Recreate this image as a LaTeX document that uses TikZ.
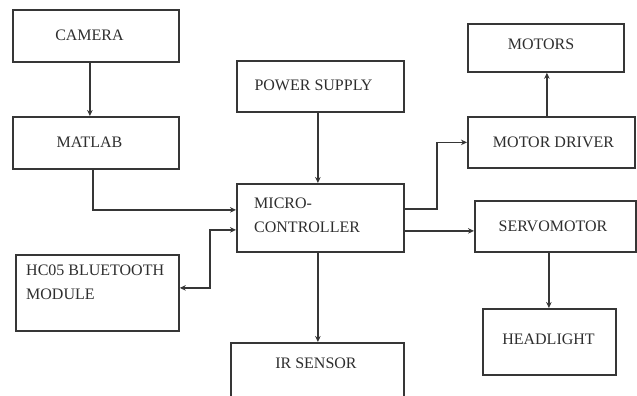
\documentclass[tikz,border=0pt]{standalone}
\usepackage{fontspec}
\setmainfont{Liberation Serif}
\usetikzlibrary{arrows.meta}
\definecolor{ink}{HTML}{363636}
\definecolor{txt}{HTML}{2E2E2E}
\tikzset{
  box/.style={draw=ink, line width=1.8pt, inner sep=0pt, anchor=north west, fill=white},
  lbl/.style={text=txt, font=\fontsize{16}{24}\selectfont, inner sep=0pt},
  arr/.style={draw=ink, line width=1.4pt, -{Stealth[length=6pt,width=5.5pt]}},
  dblarr/.style={draw=ink, line width=1.4pt, {Stealth[length=6pt,width=5.5pt]}-{Stealth[length=6pt,width=5.5pt]}}
}
\begin{document}
\begin{tikzpicture}[x=1pt,y=-1pt]
\useasboundingbox (0,0) rectangle (637,396);
\clip (0,0) rectangle (637,396);
\fill[white] (0,0) rectangle (637,396);
% boxes
\node[box, minimum width=166pt, minimum height=52pt] (camera) at (12,9) {};
\node[lbl] (cameratext) at (89.5,35) {CAMERA};
\node[box, minimum width=166pt, minimum height=52pt] (matlab) at (12,116) {};
\node[lbl] (matlabtext) at (89.5,142) {MATLAB};
\node[box, minimum width=167pt, minimum height=51pt] (power) at (236,60) {};
\node[lbl] (powertext) at (313.5,85.5) {POWER SUPPLY};
\node[box, minimum width=167pt, minimum height=68pt] (mc) at (236,183) {};
\node[lbl, anchor=west, align=left] (mctext) at (254,215) {MICRO-\\CONTROLLER};
\node[box, minimum width=163pt, minimum height=76pt] (hc05) at (15,254) {};
\node[lbl, anchor=west, align=left] (hc05text) at (26,282) {HC05 BLUETOOTH\\MODULE};
\node[box, minimum width=173pt, minimum height=80pt] (ir) at (230,342) {};
\node[lbl] (irtext) at (316,363) {IR SENSOR};
\node[box, minimum width=156pt, minimum height=48pt] (motors) at (467,23) {};
\node[lbl] (motorstext) at (541,44) {MOTORS};
\node[box, minimum width=167pt, minimum height=51pt] (md) at (467,116) {};
\node[lbl] (mdtext) at (553.5,142) {MOTOR DRIVER};
\node[box, minimum width=161pt, minimum height=51pt] (servo) at (474,200) {};
\node[lbl] (servotext) at (553,226) {SERVOMOTOR};
\node[box, minimum width=133pt, minimum height=66pt] (head) at (482,308) {};
\node[lbl] (headtext) at (548.5,339) {HEADLIGHT};
% connectors
\draw[arr] ([xshift=-6pt]camera.south) -- ([xshift=-6pt]matlab.north);
\draw[arr] ([xshift=-3pt]matlab.south) |- ([yshift=8pt]mc.west);
\draw[arr] ([xshift=-2.5pt]power.south) -- ([xshift=-2.5pt]mc.north);
\draw[arr] ([xshift=-2.5pt]mc.south) -- ([xshift=0.5pt]ir.north);
\draw[dblarr] ([yshift=5pt]hc05.east) -- ++(30,0) |- ([yshift=-12pt]mc.west);
\draw[arr] ([yshift=9pt]mc.east) -- ++(32,0) |- (md.west);
\coordinate (mcs) at ([yshift=-13pt]mc.east);
\draw[arr] (mcs) -- (mcs -| servo.west);
\coordinate (mdn) at ([xshift=-4.5pt]md.north);
\draw[arr] (mdn) -- (mdn |- motors.south);
\coordinate (ss) at ([xshift=-6.5pt]servo.south);
\draw[arr] (ss) -- (ss |- head.north);
\end{tikzpicture}
\end{document}
